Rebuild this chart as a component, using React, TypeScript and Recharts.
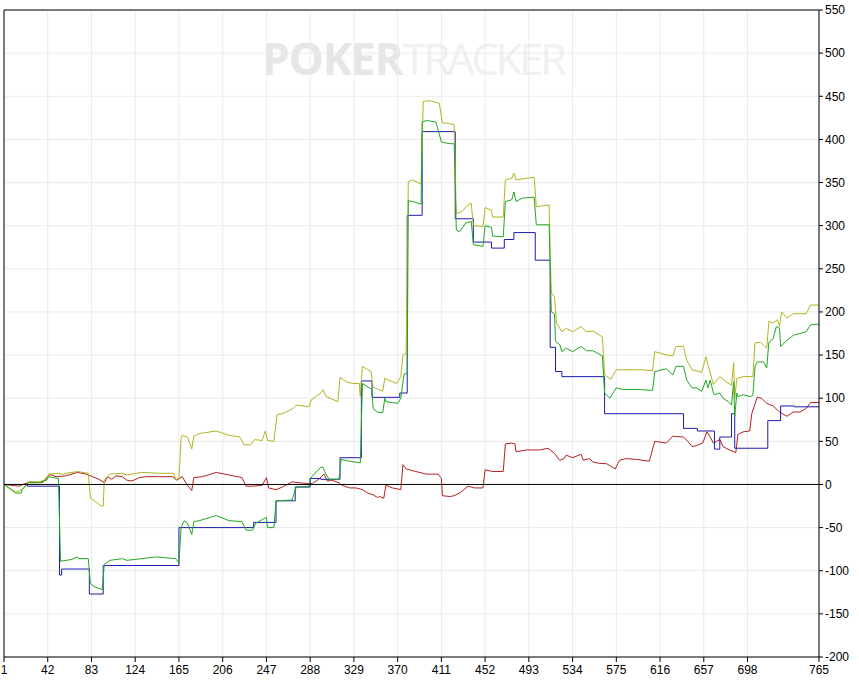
import { LineChart, Line, XAxis, YAxis, CartesianGrid, ReferenceLine } from 'recharts';

// x ticks (hand numbers) and y ticks (winnings)
const handTicks = [1, 42, 83, 124, 165, 206, 247, 288, 329, 370, 411, 452, 493, 534, 575, 616, 657, 698, 765];
const valueTicks = [-200, -150, -100, -50, 0, 50, 100, 150, 200, 250, 300, 350, 400, 450, 500, 550];

// blue: step series
const blueHands = [1, 23, 53, 55, 81, 94, 165, 235, 256, 274, 288, 298, 316, 336, 346, 372, 379, 393, 424, 441, 458, 470, 479, 499, 513, 518, 524, 564, 638, 651, 667, 672, 683, 686, 717, 729, 742, 765];
const blueValues = [0, -2, -105, -98, -127, -94, -50, -44, -19, -3, 7, 6, 31, 120, 101, 106, 312, 409, 308, 281, 274, 284, 292, 260, 159, 131, 125, 82, 65, 62, 41, 55, 82, 42, 74, 91, 90, 90];

const greenHands = [1, 12, 17, 18, 24, 34, 41, 43, 52, 54, 64, 70, 71, 80, 82, 85, 93, 95, 100, 112, 116, 130, 144, 162, 165, 167, 170, 173, 177, 179, 184, 200, 212, 224, 228, 234, 237, 247, 248, 254, 256, 271, 275, 287, 288, 298, 300, 303, 306, 315, 317, 325, 335, 337, 346, 347, 351, 356, 358, 359, 370, 373, 376, 379, 380, 384, 392, 393, 397, 406, 411, 419, 423, 425, 428, 434, 439, 441, 450, 452, 458, 459, 469, 471, 477, 479, 481, 487, 498, 500, 512, 514, 517, 518, 522, 524, 528, 534, 542, 547, 553, 562, 564, 569, 575, 581, 597, 609, 611, 622, 628, 631, 638, 641, 646, 650, 655, 659, 661, 663, 666, 667, 672, 675, 680, 683, 685, 686, 688, 689, 694, 700, 703, 705, 707, 713, 716, 718, 722, 725, 728, 729, 735, 741, 747, 753, 757, 765];
const greenValues = [0, -10, -10, -6, 2, 2, 5, 9, 7, -89, -87, -84, -86, -86, -115, -118, -122, -93, -88, -86, -88, -86, -84, -86, -91, -50, -42, -45, -58, -43, -42, -36, -42, -43, -53, -53, -45, -38, -50, -50, -19, -18, -3, -2, 7, 20, 20, 11, 6, 6, 29, 27, 25, 117, 110, 88, 84, 83, 100, 96, 94, 100, 128, 129, 329, 328, 325, 420, 422, 420, 397, 395, 395, 295, 293, 303, 305, 278, 276, 300, 298, 288, 287, 328, 330, 339, 328, 332, 333, 301, 301, 200, 198, 166, 162, 154, 158, 154, 160, 155, 155, 149, 106, 100, 112, 110, 110, 109, 131, 134, 127, 137, 137, 121, 112, 112, 108, 121, 112, 121, 106, 104, 106, 100, 96, 92, 119, 79, 106, 102, 104, 102, 103, 137, 142, 142, 135, 165, 169, 183, 181, 160, 167, 173, 175, 177, 185, 186];

const yellowHands = [1, 12, 18, 24, 34, 41, 43, 52, 55, 70, 80, 82, 87, 92, 94, 95, 100, 112, 116, 130, 146, 160, 162, 165, 167, 168, 173, 177, 179, 184, 200, 212, 222, 226, 232, 236, 243, 246, 248, 254, 257, 262, 272, 275, 287, 289, 298, 300, 303, 314, 316, 322, 328, 334, 335, 337, 342, 345, 347, 356, 358, 369, 373, 375, 378, 380, 384, 392, 394, 400, 409, 412, 416, 423, 425, 430, 436, 439, 441, 450, 452, 458, 459, 469, 471, 477, 479, 481, 491, 498, 500, 512, 514, 517, 519, 524, 528, 534, 542, 547, 553, 562, 564, 570, 575, 597, 609, 611, 622, 628, 631, 638, 641, 646, 655, 659, 661, 666, 672, 678, 683, 685, 686, 688, 694, 703, 705, 710, 716, 718, 722, 726, 728, 730, 735, 741, 753, 757, 765];
const yellowValues = [0, -9, -6, 3, 3, 6, 12, 13, 12, 15, 13, -16, -20, -25, -25, 5, 12, 13, 11, 14, 13, 13, 6, 7, 53, 57, 55, 41, 56, 59, 62, 57, 55, 46, 46, 52, 51, 62, 51, 50, 81, 82, 88, 92, 90, 98, 106, 110, 102, 96, 124, 119, 117, 117, 102, 137, 133, 131, 113, 108, 123, 117, 125, 150, 152, 351, 353, 348, 444, 445, 442, 419, 419, 417, 314, 316, 324, 326, 300, 299, 321, 318, 310, 310, 353, 355, 361, 353, 355, 356, 322, 324, 222, 218, 187, 177, 181, 177, 183, 177, 178, 171, 127, 122, 133, 133, 132, 154, 150, 149, 160, 160, 144, 133, 130, 148, 138, 116, 125, 119, 115, 141, 100, 123, 125, 125, 164, 165, 158, 189, 187, 191, 183, 200, 193, 198, 198, 208, 208];

const redHands = [1, 15, 23, 26, 37, 43, 46, 50, 59, 70, 78, 84, 90, 95, 98, 102, 106, 112, 116, 121, 128, 134, 146, 159, 163, 168, 173, 177, 179, 187, 200, 212, 224, 228, 234, 243, 247, 249, 256, 262, 271, 281, 290, 297, 301, 304, 308, 315, 318, 325, 331, 337, 342, 347, 351, 353, 357, 359, 365, 373, 375, 378, 387, 397, 408, 411, 412, 419, 423, 428, 436, 442, 450, 452, 459, 469, 471, 477, 480, 481, 491, 503, 511, 517, 522, 526, 528, 534, 542, 544, 550, 553, 559, 566, 570, 574, 578, 584, 594, 606, 611, 622, 628, 638, 642, 646, 650, 656, 660, 663, 666, 672, 675, 681, 687, 689, 694, 700, 702, 707, 711, 716, 722, 728, 735, 741, 747, 753, 757, 765];
const redValues = [0, -2, 2, 3, 2, 11, 11, 9, 10, 14, 12, 9, 6, 2, 9, 6, 10, 9, 5, 4, 8, 9, 9, 9, 5, 9, -1, -7, 8, 9, 14, 11, 8, -2, -2, -1, 8, -4, -6, -3, 3, 1.5, 1, 7, 12, 4, 5, 2, -1, -4, -4, -6, -10, -12, -15, -14, -16, -1, -4, -6, 23, 18, 15, 12, 12, 7, -13, -14, -13, -10, -2, -4, -4, 17, 15, 15, 47, 48, 47, 38, 40, 40, 42, 36, 28, 30, 34, 31, 35, 28, 30, 26, 24.5, 24, 21, 18, 28, 30, 29, 27, 50, 48, 56, 55, 50, 44, 45, 48, 61, 55, 48, 52, 44, 40, 37, 58, 61, 62, 82, 101, 100, 94, 91, 84, 79, 84, 84, 88, 95, 95];

const toPoints = (hands: number[], values: number[]) => hands.map((hand, i) => ({ hand, v: values[i] }));

const blueData = toPoints(blueHands, blueValues);
const greenData = toPoints(greenHands, greenValues);
const yellowData = toPoints(yellowHands, yellowValues);
const redData = toPoints(redHands, redValues);

const tickStyle = { fontSize: 12, fill: '#000', fontFamily: 'Liberation Sans, Arial, sans-serif' };

export default function App() {
  return (
    <div style={{ position: 'absolute', left: 0, top: 0, width: 859, height: 683, background: '#fff' }}>
      {/* watermark sits under the chart so the grid shows through it */}
      <div
        style={{
          position: 'absolute', left: 262, top: 30, whiteSpace: 'nowrap',
          fontFamily: 'Open Sans, sans-serif', fontSize: 44, lineHeight: '56px',
        }}
      >
        <span style={{ color: '#e6e6e6', fontWeight: 700, letterSpacing: -1 }}>POKER</span>
        <span style={{ color: '#f0f0f0', fontWeight: 400, letterSpacing: -3.5 }}>TRACKER</span>
      </div>
      <div style={{ position: 'absolute', left: 0, top: 0 }}>
        <LineChart width={859} height={683} margin={{ top: 10, right: 4, bottom: 4, left: 4 }}>
          <CartesianGrid stroke="#ebebeb" strokeWidth={1} />
          <XAxis
            type="number"
            dataKey="hand"
            domain={[1, 765]}
            ticks={handTicks}
            interval={0}
            allowDataOverflow
            height={22}
            stroke="#000"
            tickSize={5}
            tickMargin={3}
            tick={tickStyle}
          />
          <YAxis
            type="number"
            orientation="right"
            domain={[-200, 550]}
            ticks={valueTicks}
            interval={0}
            allowDataOverflow
            width={36}
            stroke="#000"
            tickSize={4}
            tickMargin={2}
            tick={{ ...tickStyle, textAnchor: 'start' }}
          />
          <ReferenceLine x={1} stroke="#000" />
          <ReferenceLine y={550} stroke="#000" />
          <Line data={redData} dataKey="v" type="linear" stroke="#b42020" strokeWidth={1} dot={false} isAnimationActive={false} />
          <Line data={blueData} dataKey="v" type="stepAfter" stroke="#1c1cb0" strokeWidth={1} dot={false} isAnimationActive={false} />
          <Line data={yellowData} dataKey="v" type="linear" stroke="#b4b420" strokeWidth={1} dot={false} isAnimationActive={false} />
          <Line data={greenData} dataKey="v" type="linear" stroke="#20a820" strokeWidth={1} dot={false} isAnimationActive={false} />
          <ReferenceLine y={0} stroke="#000" />
        </LineChart>
      </div>
    </div>
  );
}
